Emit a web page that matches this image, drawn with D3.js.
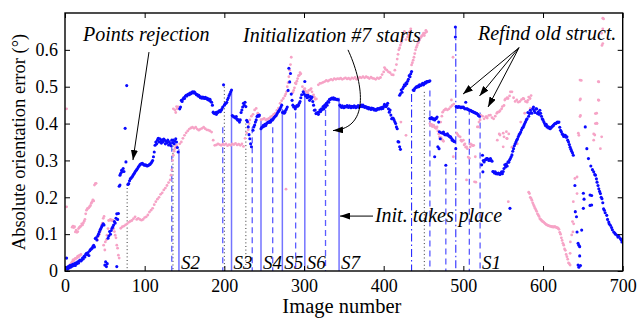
<!DOCTYPE html>
<html>
<head>
<meta charset="utf-8">
<script src="https://cdn.jsdelivr.net/npm/d3@7"></script>
<style>
  html, body { margin: 0; padding: 0; background: #fff; }
  svg { display: block; }
  text { font-family: "Liberation Serif", "Times New Roman", serif; fill: #000; }
</style>
</head>
<body>
<div id="chart"></div>
<script>
// ---------------- DATA ----------------
const imageTicks = [0, 100, 200, 300, 400, 500, 600, 700];
const errorTicks = [0, 0.1, 0.2, 0.3, 0.4, 0.5, 0.6];

// Blue series: [image number, absolute orientation error (deg)]
const bluePoints = [
[1,0.01],[2,0.035],[3,0.005],[4,0.012],[5,0.008],[6,0.015],[7,0.01],[8,0.016],[9,0.013],[10,0.018],
[11,0.015],[12,0.02],[13,0.015],[14,0.022],[15,0.02],[16,0.025],[17,0.022],[18,0.028],[19,0.03],[20,0.027],
[21,0.03],[22,0.035],[23,0.033],[24,0.04],[25,0.038],[26,0.045],[27,0.048],[28,0.045],[29,0.05],[30,0.042],
[31,0.055],[32,0.058],[33,0.06],[34,0.062],[35,0.066],[36,0.07],[37,0.065],[38,0.088],[39,0.09],[40,0.084],
[41,0.095],[42,0.1],[43,0.106],[44,0.111],[45,0.115],[46,0.12],[47,0.124],[48,0.128],[49,0.125],
[50,0.016],[51,0.025],[52,0.012],[53,0.02],
[54,0.089],[55,0.095],[56,0.107],[57,0.1],[58,0.11],[59,0.116],[60,0.12],[61,0.125],[62,0.134],[63,0.13],
[64,0.143],[65,0.155],[65,0.012],[66,0.14],[67,0.156],
[68,0.23],[69,0.26],[69,0.233],[70,0.265],[71,0.273],[72,0.27],[73,0.278],[74,0.27],[75.5,0.387],[76.5,0.296],[77.5,0.503],
[79,0.235],[80,0.237],[81,0.245],[82,0.25],[83,0.252],[84,0.255],[85,0.258],[86,0.262],[87,0.265],[88,0.269],
[89,0.272],[90,0.275],[91,0.278],[92,0.282],[93,0.285],[94,0.288],[95,0.29],[96,0.291],[97,0.292],[98,0.29],
[99,0.288],[100,0.287],[101,0.288],[102,0.287],[103,0.285],[104,0.286],[105,0.287],[106,0.289],[107,0.29],[108,0.293],
[109,0.296],[110,0.3],[111,0.31],[112,0.323],
[113,0.341],[114,0.35],[115,0.345],[116,0.355],[117,0.36],[118,0.35],[119,0.359],[120,0.352],[121,0.347],[122,0.356],
[123,0.35],[124,0.358],[125,0.355],[126,0.345],[127,0.352],[128,0.348],[129,0.355],[130,0.342],[131,0.35],[132,0.345],
[133,0.34],[134,0.355],[135,0.348],[136,0.355],[137,0.345],[138,0.352],[139,0.359],[140,0.35],[141,0.335],[142,0.323],
[144,0.44],[145,0.445],[146,0.463],[147,0.46],[148,0.466],[149,0.47],[150,0.468],[151,0.474],[152,0.477],[153,0.475],
[154,0.479],[155,0.48],[156,0.478],[157,0.483],[158,0.481],[159,0.484],[160,0.486],[161,0.483],[162,0.486],[163,0.484],
[164,0.481],[165,0.478],[166,0.479],[167,0.475],[168,0.477],[169,0.473],[170,0.47],[171,0.472],[172,0.469],[173,0.472],
[174,0.47],[175,0.468],[176,0.471],[177,0.468],[178,0.469],[179,0.465],[180,0.467],[181,0.463],[182,0.466],[183,0.46],
[184,0.458],[185,0.45],[186,0.431],[187,0.428],[188,0.427],[189,0.43],[190,0.425],[191,0.431],[192,0.43],[193,0.433],
[194,0.435],[195,0.432],[196,0.436],[197,0.44],[198,0.445],[199,0.505],[200,0.45],[201,0.454],[202,0.455],[203,0.458],
[204,0.465],[205,0.47],[206,0.476],[207,0.481],[208,0.486],[209,0.491],
[210,0.422],[211,0.42],[212,0.418],[213,0.418],[214,0.415],[215,0.419],[216,0.412],[217,0.409],[218,0.41],[219,0.404],
[220,0.41],[221,0.43],[222,0.437],[223,0.445],[224,0.455],[225,0.45],[226,0.458],[227,0.446],[228,0.409],[229,0.405],
[230,0.391],[231,0.37],[232,0.359],[233,0.345],[234,0.337],
[236,0.382],[237,0.391],[238,0.396],[239,0.404],[240,0.41],[241,0.419],[242,0.422],[243,0.42],[244,0.423],
[246,0.386],[247,0.39],[248,0.391],[249,0.395],[250,0.393],[251,0.398],[252,0.395],[253,0.4],[254,0.402],[255,0.404],
[256,0.403],[257,0.406],[258,0.404],[259,0.41],[260,0.409],[261,0.412],[262,0.415],[263,0.418],[264,0.42],[265,0.422],
[266,0.426],[267,0.43],[268,0.433],[269,0.436],[270,0.44],[271,0.445],[272,0.45],
[273,0.43],[274,0.432],[275,0.428],[276,0.431],[277,0.436],[278,0.44],[279,0.445],[280,0.49],[281,0.55],[282,0.513],
[283,0.536],[284,0.48],[285,0.463],[286,0.45],[287,0.445],[288,0.446],[289,0.44],[290,0.445],[291,0.449],[292,0.447],
[293,0.45],[294,0.455],[295,0.46],[296,0.47],[297,0.478],
[299,0.486],[300,0.48],[301,0.514],[302,0.475],[303,0.477],[304,0.47],[305,0.477],[306,0.472],[307,0.463],[308,0.473],
[309,0.468],[310,0.472],[311,0.46],[312,0.45],[313,0.436],[314,0.437],[315,0.427],[316,0.428],[317,0.43],[318,0.425],
[319,0.431],[320,0.437],[321,0.433],[322,0.44],[323,0.438],[324,0.446],[325,0.44],[326,0.45],[327,0.445],[328,0.455],
[329,0.45],[330,0.46],[331,0.458],[332,0.466],[333,0.465],[334,0.468],[335,0.469],[336,0.467],[337,0.47],[338,0.466],
[339,0.468],[340,0.466],[341,0.465],[342,0.466],[343,0.464],
[345,0.45],[346,0.447],[347,0.444],[348,0.448],[349,0.445],[350,0.443],[351,0.447],[352,0.445],[353,0.446],[354,0.449],
[355,0.445],[356,0.444],[357,0.448],[358,0.446],[359,0.443],[360,0.447],[361,0.446],[362,0.444],[363,0.448],[364,0.446],
[365,0.443],[366,0.445],[367,0.446],[368,0.449],[369,0.444],[370,0.446],[371,0.448],[372,0.45],[373,0.446],[374,0.45],
[375,0.447],[376,0.444],[377,0.446],[378,0.445],[379,0.442],[380,0.444],[381,0.44],[382,0.443],[383,0.441],[384,0.438],
[385,0.442],[386,0.44],[387,0.441],[388,0.437],[389,0.439],[390,0.436],[391,0.437],[392,0.44],[393,0.441],[394,0.439],
[395,0.441],[396,0.443],[397,0.44],[398,0.444],[399,0.441],[400,0.446],[401,0.452],[402,0.448],[403,0.446],[404,0.45],
[405,0.455],[406,0.44],[407,0.431],[408,0.437],[409,0.423],[410,0.413],[411,0.415],[412,0.414],[413,0.41],[414,0.405],
[415,0.4],[416,0.391],[417,0.386],[418,0.351],[419,0.35],[420,0.337],[421,0.33],
[420,0.477],[421,0.481],[422,0.491],[423,0.485],[424,0.495],[425,0.5],[426,0.505],[427,0.503],[428,0.51],[429,0.508],
[430,0.515],[431,0.52],[432,0.53],[433,0.527],[434,0.535],[435,0.541],
[437,0.491],[438,0.49],[439,0.495],[440,0.497],[441,0.5],[442,0.499],[443,0.502],[444,0.5],[445,0.505],[446,0.503],
[447,0.504],[448,0.507],[449,0.509],[450,0.505],[451,0.508],[452,0.512],[453,0.51],[454,0.514],[455,0.513],[456,0.515],
[457,0.514],[458,0.516],
[458,0.414],[459,0.413],[460,0.416],[461,0.414],[462,0.412],[463,0.413],[464,0.41],[464,0.31],[465,0.413],[466,0.414],
[467,0.418],[468,0.337],[469,0.404],[469.5,0.332],[470,0.378],[471,0.359],[472,0.375],[474,0.374],[475,0.377],[476,0.372],
[477,0.37],[478,0.287],[479,0.369],[480,0.372],[481,0.368],[482,0.366],[483,0.364],[484,0.364],[485,0.36],[486,0.355],
[487,0.355],[488,0.352],[489,0.351],[490,0.662],[490,0.635],[490.5,0.332],
[491,0.446],[492,0.445],[493,0.444],[494,0.446],[495,0.445],[496,0.445],[497,0.443],[498,0.445],[499,0.444],[500,0.445],
[501,0.442],[502,0.44],[503,0.458],[504,0.44],[505,0.44],[506,0.438],[507,0.437],[508,0.436],[509,0.436],[510,0.434],
[511,0.433],[512,0.432],[513,0.431],[514,0.43],[515,0.429],[516,0.428],[517,0.427],[518,0.425],[519,0.422],[520,0.42],
[523,0.288],[524,0.314],[524.5,0.269],[525,0.3],[526,0.296],[527,0.301],[528,0.302],[529,0.305],[530,0.305],[531,0.303],
[532,0.3],[533,0.301],[534,0.305],[535,0.3],[536,0.298],[537,0.27],[538,0.269],[539,0.266],[540,0.269],[541,0.264],
[542,0.265],[543,0.263],[544,0.266],[545,0.264],[546,0.262],[547,0.265],[548,0.269],[549,0.264],[550,0.27],[551,0.278],
[552,0.288],[553,0.282],[554,0.29],[555,0.285],[556,0.296],[557,0.295],[558,0.301],[558.5,0.17],[559,0.305],[560,0.31],
[561,0.315],[562,0.325],[563,0.332],[564,0.34],[565,0.345],[566,0.35],[567,0.355],[568,0.359],[569,0.365],[570,0.37],
[571,0.373],[572,0.377],[573,0.383],[574,0.388],[575,0.39],[576,0.395],[577,0.4],[578,0.405],[579,0.41],[580,0.413],
[581,0.43],[582,0.42],[583,0.427],[584,0.436],[585,0.43],[586,0.428],[587,0.44],[588,0.445],[589,0.435],[590,0.43],
[591,0.44],[592,0.44],[593,0.427],[594,0.431],[595,0.425],[596,0.436],[597,0.428],[598,0.42],[599,0.413],[600,0.41],
[601,0.405],[602,0.4],[603,0.395],[604,0.398],[605,0.391],[606,0.392],[607,0.388],[608,0.39],[609,0.386],[610,0.389],
[611,0.391],[612,0.393],[613,0.395],[614,0.398],[615,0.4],[616,0.4],[617,0.402],[618,0.404],[619,0.403],[620,0.404],
[621,0.39],[622,0.382],[623,0.378],[624,0.372],[625,0.37],[626,0.365],[627,0.368],[628,0.368],[629,0.363],[630,0.364],
[631,0.355],[632,0.35],[633,0.343],[634,0.336],[635,0.33],[636,0.325],[637,0.32],[638,0.314],
[640,0.232],[640.5,0.161],[642,0.147],[642.7,0.106],[644,0.075],[645,0.07],[646,0.066],[646,0.041],[644,0.016],[647,0.015],
[645,0.01],[648.5,0.111],[650.6,0.211],[651.5,0.195],[650.6,0.17],[653,0.391],[655,0.332],[657,0.305],[659,0.178],[659,0.206],
[661,0.205],[661,0.179],[660,0.285],[662,0.275],[663.6,0.269],[665,0.262],[665.7,0.26],[667,0.25],[667.8,0.241],[669,0.232],
[670,0.223],[671,0.216],[672,0.21],[673,0.2],[674,0.196],[675,0.185],[676,0.169],[677,0.165],[678,0.158],[680,0.151],
[681,0.14],[682.5,0.133],[683,0.128],[684.5,0.124],[686,0.118],[687,0.112],[688.7,0.106],[690,0.103],[691,0.1],[693,0.097],
[694,0.092],[695,0.094],[697,0.088],[698,0.085],[699,0.079]
];

// Pink series: [image number, absolute orientation error (deg)]
const pinkPoints = [
[2,0.44],[2,0.174],[4,0.007],[5,0.012],[6,0.016],[7,0.018],[8,0.021],[9,0.025],[10,0.03],[11,0.028],
[12,0.032],[13,0.034],[14,0.034],[15,0.036],[16,0.04],[17,0.038],[18,0.042],[19,0.043],[20,0.045],
[9,0.119],[10,0.122],[11,0.118],[12,0.12],[13,0.106],[14,0.111],[15,0.105],[16,0.107],[17,0.115],[18,0.118],
[19,0.12],[20,0.122],[21,0.128],[22,0.125],[23,0.13],[24,0.135],[25,0.14],[26,0.155],[27,0.165],[28,0.169],
[29,0.17],[30,0.172],[31,0.175],[32,0.178],[33,0.184],[34,0.188],[35,0.193],[36,0.19],[37,0.233],[38,0.237],[39,0.238],
[40,0.09],[41,0.084],[42,0.095],[43,0.1],[44,0.107],[45,0.115],[46,0.125],[47,0.13],[48,0.143],[49,0.148],
[48.5,0.07],[50,0.057],[50.6,0.079],[52,0.085],[52.7,0.097],[54,0.115],[54.8,0.137],[56,0.138],[57,0.14],[58,0.138],
[59,0.137],[60,0.138],[61,0.115],[62,0.107],[63,0.097],[64,0.09],[65,0.07],[66,0.062],[67,0.043],[68,0.035],
[70,0.116],[72,0.12],[74,0.122],[76,0.125],[78,0.128],[80,0.132],[82,0.135],[84,0.137],[86,0.142],[88,0.147],
[90,0.14],[92,0.143],[94,0.14],[96,0.138],[98,0.14],[100,0.145],[102,0.147],[104,0.152],[106,0.16],[108,0.165],
[110,0.17],[112,0.18],[114,0.188],[116,0.195],[118,0.2],[120,0.208],[122,0.212],[124,0.22],[126,0.225],[128,0.232],
[130,0.24],[132,0.247],[133,0.26],[134,0.274],[135,0.3],[136,0.314],[137,0.325],[138,0.332],[139,0.336],[140,0.341],
[136,0.44],[138,0.437],[139,0.43],[140,0.446],[141,0.44],[142,0.445],
[144,0.345],[146,0.35],[148,0.36],[150,0.368],[152,0.375],[154,0.38],[156,0.385],[158,0.388],[160,0.39],[162,0.387],
[164,0.39],[166,0.385],[168,0.382],[170,0.385],[172,0.387],[174,0.39],[176,0.386],[178,0.383],[180,0.382],[182,0.38],
[184,0.377],[186,0.355],[188,0.341],[190,0.342],[192,0.345],[194,0.343],[196,0.341],[198,0.344],[200,0.342],[202,0.345],
[204,0.34],[206,0.343],[208,0.341],[210,0.345],[212,0.343],[214,0.346],[216,0.342],[218,0.344],[220,0.341],[222,0.345],
[224,0.338],[226,0.36],[228,0.375],[230,0.383],[231,0.4],[232,0.41],[234,0.42],[236,0.425],[238,0.437],[240,0.441],
[242,0.428],[244,0.42],[246,0.41],[248,0.412],[250,0.414],[252,0.41],[254,0.412],[256,0.414],[258,0.418],[260,0.42],
[262,0.425],[264,0.428],[266,0.436],[268,0.442],[270,0.455],[272,0.462],[274,0.468],[276,0.475],[277,0.48],[278,0.486],
[279,0.5],[280,0.511],[281,0.527],[282,0.545],[283,0.56],[284,0.58],[277.4,0.222],
[286,0.484],[287,0.49],[288,0.497],[289,0.51],[290,0.508],[291,0.515],[292,0.522],[293,0.53],[294,0.531],[295,0.538],
[296,0.535],[298,0.5],[300,0.492],[301,0.495],[302,0.488],[304,0.485],[305,0.481],[306,0.49],[308,0.492],[309,0.495],
[310,0.486],[312,0.478],[313,0.472],[314,0.466],[315.5,0.467],
[318,0.505],[320,0.509],[322,0.51],[324,0.512],[326,0.514],[328,0.517],[330,0.515],[332,0.518],[334,0.52],[336,0.518],
[338,0.522],[340,0.52],[342,0.522],[344,0.521],[346,0.523],[348,0.52],[350,0.522],[352,0.524],[354,0.521],[356,0.523],
[358,0.52],[360,0.524],[362,0.522],[364,0.525],[366,0.52],[368,0.523],[370,0.526],[372,0.524],[374,0.527],[376,0.524],
[378,0.527],[380,0.525],[382,0.522],[384,0.526],[386,0.523],[388,0.522],[390,0.52],[392,0.524],[394,0.522],[396,0.525],
[398,0.533],[400,0.54],[401,0.552],[402,0.548],[404,0.545],[406,0.54],[408,0.538],[410,0.533],[412,0.532],
[414,0.545],[416,0.56],[417,0.575],[418,0.588],[419,0.6],[420,0.605],[421,0.613],[422,0.62],[423,0.627],[424,0.635],
[425,0.643],[426,0.65],[428,0.628],[430,0.635],[431,0.64],[432,0.648],[433,0.65],[434,0.657],
[421.6,0.404],[428,0.368],
[435,0.559],[436,0.565],[437,0.572],[438,0.58],[439,0.59],[440,0.6],[441,0.607],[442,0.612],[443,0.618],[444,0.622],
[445,0.627],[446,0.632],[447,0.635],[448,0.638],[449,0.64],[450,0.645],[451,0.639],[452,0.646],[453,0.653],[454,0.649],
[458,0.4],[459,0.395],[460,0.398],[461,0.392],[462,0.396],[463,0.395],[464,0.39],[465,0.388],[466,0.387],[467,0.391],
[468,0.38],[469,0.372],[470,0.364],[471,0.36],[472,0.362],[473,0.357],[474,0.355],[475,0.352],
[471.6,0.404],[473,0.42],[474,0.431],[475.7,0.436],[477,0.438],[478,0.44],[480,0.437],[482,0.44],[484,0.445],[485,0.464],
[486,0.449],[488,0.453],[487,0.58],
[491.6,0.374],[493,0.37],[494,0.366],[496,0.364],[497,0.355],[498,0.352],[500,0.355],[501,0.342],[502,0.345],[503,0.336],
[504,0.337],[505,0.332],[506,0.309],[507.5,0.306],[508.6,0.337],[509,0.345],[510.7,0.342],[512,0.34],[513,0.341],[514,0.242],
[515,0.31],[515.7,0.241],[517.6,0.391],[519,0.391],[519.6,0.404],[521,0.41],[504,0.247],[487.4,0.31],
[522,0.422],[524,0.42],[526,0.413],[528,0.418],[529,0.419],[530,0.415],[532,0.422],[534,0.423],[536,0.416],[538,0.413],
[540,0.42],[542,0.428],[543,0.431],[545,0.432],[546,0.435],[548,0.44],[549,0.446],[551,0.449],[552,0.464],[553,0.467],
[555,0.47],[556,0.468],[558,0.475],[559,0.486],[561,0.486],[563,0.47],[565,0.46],[567,0.464],[569,0.458],[571,0.46],
[573,0.465],[575,0.468],[576,0.467],[577,0.428],[578,0.46],[580,0.458],[581,0.463],[582,0.472],[583.7,0.468],[584,0.441],[585,0.476],
[542.6,0.355],[545,0.372],[546,0.369],[550,0.374],[551,0.364],[554,0.378],[555,0.359],[557,0.372],[554.4,0.36],[550,0.337],
[561,0.336],[567.7,0.345],[572,0.404],[556.4,0.188],
[582,0.214],[583,0.21],[584,0.2],[585,0.197],[586,0.192],[587,0.185],[588,0.18],[589,0.175],[590,0.17],[591,0.166],
[592,0.162],[593,0.155],[594,0.152],[595,0.148],[596,0.142],[597,0.14],[598,0.138],[599,0.135],[600,0.134],[601,0.132],
[602,0.13],[603,0.128],[604,0.126],[605,0.125],[606,0.124],[607,0.123],[608,0.122],[609,0.122],[610,0.121],[611,0.12],
[612,0.12],[613,0.119],[614,0.12],[615,0.12],[616,0.119],[617,0.118],[618,0.117],[619,0.116],[620,0.113],[621,0.105],
[622,0.1],[623,0.09],[624,0.083],[625,0.075],[626,0.07],[627,0.06],[628,0.056],[629,0.045],[630,0.039],[631,0.032],
[632,0.022],[633,0.02],[634,0.016],
[636,0.098],[637,0.134],[638,0.188],[638.5,0.128],[640,0.251],[640.6,0.16],[642.7,0.21],[642.7,0.255],[644.3,0.374],[645,0.368],
[646.4,0.419],[647,0.422],[646.4,0.464],[647,0.467],[646.4,0.518],[648,0.517],[634,0.048],[634.3,0.079],[637.5,0.106],
[663.6,0.372],[663.6,0.355],[665,0.369],[665.7,0.4],[665.7,0.427],[667.3,0.401],[667.3,0.428],[667.8,0.4],[669.4,0.464],[670,0.463],
[669.4,0.514],[670,0.513],[672,0.332],[673.6,0.364],[674,0.612],[675,0.617],[673.6,0.645],[675,0.657],[675,0.686],[676,0.684]
];

// Vertical event lines (image number) and the error value where each line ends
const solidLineX   = [143, 209, 246, 272.8, 301, 344];
const solidLineTop = [0.33, 0.49, 0.413, 0.44, 0.486, 0.47];
const dashedLineX   = [134, 198, 235, 260.7, 289.5, 327, 458, 478, 507.5, 521];
const dashedLineTop = [0.34, 0.39, 0.39, 0.39, 0.43, 0.437, 0.49, 0.278, 0.44, 0.43];
const dashDotLineX   = [435, 490.5];
const dashDotLineTop = [0.48, 0.66];
const dottedLineX   = [78, 135.5, 200, 227, 451];
const dottedLineTop = [0.235, 0.34, 0.5, 0.4, 0.486];

const segmentLabels = ["S2", "S3", "S4", "S5", "S6", "S7", "S1"];
const segmentLabelX = [143, 209, 246, 272.8, 301, 344, 521];

// ---------------- CHART ----------------
const W = 641, H = 320;
const margin = {left: 65, right: 18.3, top: 13, bottom: 49};
const iw = W - margin.left - margin.right;
const ih = H - margin.top - margin.bottom;

const svg = d3.select("#chart").append("svg").attr("width", W).attr("height", H);
const defs = svg.append("defs");
defs.append("marker").attr("id", "ah")
  .attr("viewBox", "0 0 10 7").attr("refX", 10).attr("refY", 3.5)
  .attr("markerWidth", 10).attr("markerHeight", 7)
  .attr("markerUnits", "userSpaceOnUse").attr("orient", "auto")
  .append("path").attr("d", "M0,0 L10,3.5 L0,7 Z").attr("fill", "#000");
defs.append("clipPath").attr("id", "clip").append("rect").attr("width", iw).attr("height", ih);

const g = svg.append("g").attr("transform", `translate(${margin.left},${margin.top})`);
const x = d3.scaleLinear().domain([0, 700]).range([0, iw]);
const y = d3.scaleLinear().domain([0, 0.7]).range([ih, 0]);

// vertical lines
const vl = g.append("g");
function drawLines(xs, tops, color, dash, width) {
  vl.selectAll(null).data(xs.map((v, i) => [v, tops[i]])).enter().append("line")
    .attr("x1", d => x(d[0])).attr("x2", d => x(d[0]))
    .attr("y1", d => y(d[1])).attr("y2", y(0))
    .attr("stroke", color).attr("stroke-width", width)
    .attr("stroke-dasharray", dash);
}
drawLines(dottedLineX, dottedLineTop, "#333", "1,2.6", 1);
drawLines(dashedLineX, dashedLineTop, "#5c5cff", "6,4", 1.3);
drawLines(dashDotLineX, dashDotLineTop, "#2a2aff", "8,3,1.5,3", 1.1);
drawLines(solidLineX, solidLineTop, "#7474ff", null, 1.5);

// points
const pts = g.append("g").attr("clip-path", "url(#clip)");
pts.selectAll(".p").data(pinkPoints).enter().append("circle")
  .attr("cx", d => x(d[0])).attr("cy", d => y(d[1])).attr("r", 1.4)
  .attr("fill", "#f6a3c6");
pts.selectAll(".b").data(bluePoints).enter().append("circle")
  .attr("cx", d => x(d[0])).attr("cy", d => y(d[1])).attr("r", 1.55)
  .attr("fill", "#0a0aff");

// segment labels
g.selectAll(".seg").data(segmentLabels).enter().append("text")
  .attr("x", (d, i) => x(segmentLabelX[i]) + 2).attr("y", y(0) - 2)
  .attr("font-size", 19).attr("font-style", "italic").text(d => d);

// axes
const fmt = d => d === 0 ? "0" : d3.format(".1f")(d);
g.append("g").attr("transform", `translate(0,${ih})`)
  .call(d3.axisBottom(x).tickValues(imageTicks).tickSize(-5).tickPadding(8));
g.append("g")
  .call(d3.axisLeft(y).tickValues(errorTicks).tickFormat(fmt).tickSize(-5).tickPadding(7));
g.append("g").call(d3.axisTop(x).tickValues(imageTicks).tickSize(-5).tickFormat(""));
g.append("g").attr("transform", `translate(${iw},0)`)
  .call(d3.axisRight(y).tickValues(errorTicks).tickSize(-5).tickFormat(""));
g.selectAll(".domain").remove();
g.selectAll(".tick line").attr("stroke", "#000").attr("stroke-width", 1);
g.selectAll(".tick text").attr("font-family", "Liberation Serif, Times New Roman, serif")
  .attr("font-size", 18).attr("fill", "#000");
g.append("rect").attr("width", iw).attr("height", ih)
  .attr("fill", "none").attr("stroke", "#000").attr("stroke-width", 1.4);

// axis titles
svg.append("text").attr("x", margin.left + iw / 2 - 2).attr("y", 313)
  .attr("text-anchor", "middle").attr("font-size", 20.5).text("Image number");
svg.append("text").attr("transform", `translate(25,${margin.top + ih / 2}) rotate(-90)`)
  .attr("text-anchor", "middle").attr("font-size", 18.5).text("Absolute orientation error (°)");

// annotations
const ann = g.append("g");
function label(tx, ty, s) {
  ann.append("text").attr("x", x(tx)).attr("y", y(ty))
    .attr("font-size", 20).attr("font-style", "italic").text(s);
}
function arrow(x1, y1, x2, y2) {
  ann.append("line").attr("x1", x(x1)).attr("y1", y(y1)).attr("x2", x(x2)).attr("y2", y(y2))
    .attr("stroke", "#000").attr("stroke-width", 1).attr("marker-end", "url(#ah)");
}
label(22.6, 0.624, "Points rejection");
arrow(105.4, 0.594, 85.3, 0.301);

label(223.4, 0.621, "Initialization #7 starts");
const curve = d3.path();
curve.moveTo(x(355.2), y(0.6));
curve.bezierCurveTo(x(372.8), y(0.518), x(385.3), y(0.388), x(336.4), y(0.381));
ann.append("path").attr("d", curve.toString()).attr("fill", "none")
  .attr("stroke", "#000").attr("stroke-width", 1).attr("marker-end", "url(#ah)");

label(518.4, 0.627, "Refind old struct.");
arrow(569.9, 0.606, 499.6, 0.48);
arrow(569.9, 0.606, 520.3, 0.475);
arrow(569.9, 0.606, 531, 0.445);

label(389, 0.133, "Init. takes place");
arrow(386.6, 0.149, 345.2, 0.149);
</script>
</body>
</html>
